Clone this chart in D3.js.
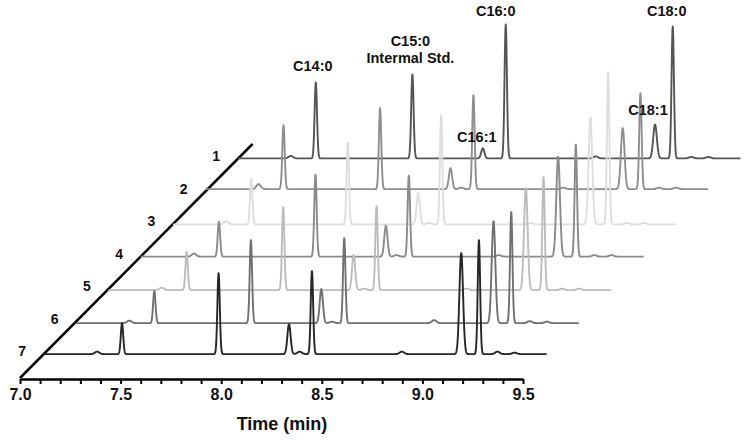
<!DOCTYPE html>
<html>
<head>
<meta charset="utf-8">
<script src="https://cdn.jsdelivr.net/npm/d3@7"></script>
<style>
  body { margin: 0; background: #fff; }
  text { font-family: Arial, "Liberation Sans", sans-serif; font-weight: bold; fill: #111; }
</style>
</head>
<body>
<script>
// samples, back (1) to front (7)
const traceNames = ["1", "2", "3", "4", "5", "6", "7"];
const traceColors = ["#555555", "#8e8e8e", "#dedede", "#8a8a8a", "#bcbcbc", "#707070", "#262626"];
const baselineOffset = [0.7, 2.5, -0.3, 0, -1, -1.5, 0];

// main peaks
const compounds = ["C14:0", "C15:0", "C16:1", "C16:0", "C18:1", "C18:0"];
const retentionTimes = [7.389, 7.869, 8.219, 8.333, 9.075, 9.163];
const peakWidths = [0.006, 0.006, 0.008, 0.006, 0.009, 0.006];
const peakHeights = [
  [76, 84, 10, 134, 34, 132],
  [64, 81, 21, 94, 61, 96],
  [46, 82, 32, 109, 107, 152],
  [35, 82, 31, 81, 100, 112],
  [38, 83, 35, 84, 102, 113],
  [32, 83, 34, 85, 102, 111],
  [31, 81, 30, 83, 101, 114]
];

// small bumps on the baseline
const minorTimes = [7.265, 8.272, 8.78, 9.255, 9.34];
const minorHeights = [
  [2.5, 0, 2, 1.5, 1.5],
  [5, 1.5, 1.5, 1.5, 1.5],
  [3, 1.5, 1.5, 1.5, 1.5],
  [3, 1.5, 1.5, 1.5, 1.5],
  [2.5, 1.5, 1.5, 1.5, 1.5],
  [2.5, 1.5, 3, 2, 1.5],
  [2.5, 2.5, 2.5, 2.5, 1.5]
];

const timeTicks = [7.0, 7.5, 8.0, 8.5, 9.0, 9.5];

const W = 751, H = 440;
const origin = {x: 20, y: 378};

const svg = d3.select("body").append("svg")
    .attr("width", W)
    .attr("height", H);

const x = d3.scaleLinear().domain([7, 9.5]).range([origin.x, 523]);
const dx = d3.scaleLinear().domain([0, 1]).range([0, 32.3]);
const dy = d3.scaleLinear().domain([0, 1]).range([0, -32.5]);
const y = d3.scaleLinear().domain([0, 100]).range([0, -100]);

const depthOf = i => 0.735 + (traceNames.length - 1 - i);

// depth axis
svg.append("line")
    .attr("x1", origin.x).attr("y1", origin.y)
    .attr("x2", origin.x + dx(7.2)).attr("y2", origin.y + dy(7.2))
    .attr("stroke", "#000").attr("stroke-width", 2.5);

// time axis
const minor = d3.range(26).map(i => +(7 + i / 10).toFixed(1));
const xAxis = svg.append("g")
    .attr("transform", `translate(0, ${origin.y + 1})`)
    .call(d3.axisBottom(x)
        .tickValues(minor)
        .tickSize(5)
        .tickSizeOuter(0)
        .tickPadding(5)
        .tickFormat(d => timeTicks.some(t => Math.abs(t - d) < 1e-6) ? d3.format(".1f")(d) : ""));
xAxis.select(".domain").attr("stroke", "#000").attr("stroke-width", 2.5);
xAxis.selectAll(".tick line").attr("stroke", "#000").attr("stroke-width", 2);
xAxis.selectAll(".tick text")
    .attr("font-size", 16)
    .style("font-family", "Arial, 'Liberation Sans', sans-serif")
    .style("font-weight", "bold")
    .attr("fill", "#111");

svg.append("text")
    .attr("x", 282).attr("y", 430)
    .attr("text-anchor", "middle")
    .attr("font-size", 18)
    .text("Time (min)");

// traces
const times = d3.range(0, 2501).map(i => 7 + i * 0.001);

function signal(i, t) {
  let v = baselineOffset[i];
  retentionTimes.forEach((rt, j) => {
    const z = (t - rt) / peakWidths[j];
    v += peakHeights[i][j] * Math.exp(-0.5 * z * z);
  });
  minorTimes.forEach((rt, j) => {
    const z = (t - rt) / 0.011;
    v += minorHeights[i][j] * Math.exp(-0.5 * z * z);
  });
  return v;
}

traceNames.forEach((name, i) => {
  const d = depthOf(i);
  const ox = dx(d), oy = origin.y + dy(d);
  const line = d3.line()
      .x(t => x(t) + ox)
      .y(t => oy + y(signal(i, t)));
  svg.append("path")
      .datum(times)
      .attr("d", line)
      .attr("fill", "none")
      .attr("stroke", traceColors[i])
      .attr("stroke-width", 1.9)
      .attr("stroke-linejoin", "round");

  svg.append("text")
      .attr("x", x(7) + ox - 21.5)
      .attr("y", oy - 3)
      .attr("dy", "0.35em")
      .attr("text-anchor", "middle")
      .attr("font-size", 14)
      .text(name);
});

// peak labels on sample 1
const labelShift = [
  {dx: -3, gap: 11},
  {dx: -2, gap: 11},
  {dx: -6, gap: 6},
  {dx: -10, gap: 8},
  {dx: -7, gap: 9},
  {dx: -6, gap: 10}
];
const d0 = depthOf(0);
compounds.forEach((c, j) => {
  const px = x(retentionTimes[j]) + dx(d0) + labelShift[j].dx;
  const top = origin.y + dy(d0) + y(peakHeights[0][j] + baselineOffset[0]);
  const py = top - labelShift[j].gap;
  if (c === "C15:0") {
    svg.append("text").attr("x", px).attr("y", py - 17)
        .attr("text-anchor", "middle").attr("font-size", 14.5).text(c);
    svg.append("text").attr("x", px).attr("y", py)
        .attr("text-anchor", "middle").attr("font-size", 14.5).text("Intermal Std.");
  } else {
    svg.append("text").attr("x", px).attr("y", py)
        .attr("text-anchor", "middle").attr("font-size", 14.5).text(c);
  }
});
</script>
</body>
</html>
